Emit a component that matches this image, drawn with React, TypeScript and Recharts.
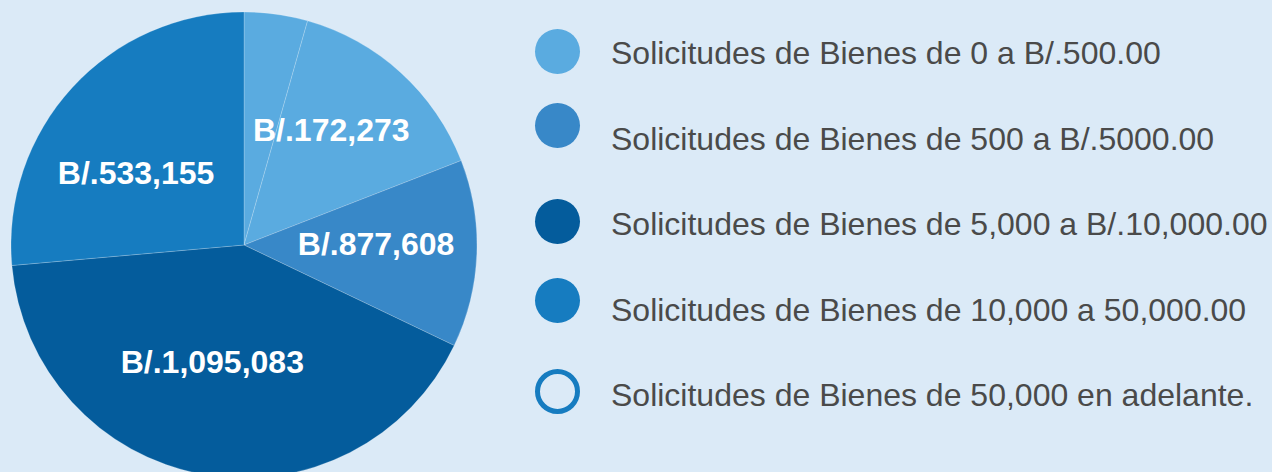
import { PieChart, Pie, Cell, Legend } from 'recharts';

// legend categories (in legend order)
const categories = [
  'Solicitudes de Bienes de 0 a B/.500.00',
  'Solicitudes de Bienes de 500 a B/.5000.00',
  'Solicitudes de Bienes de 5,000 a B/.10,000.00',
  'Solicitudes de Bienes de 10,000 a 50,000.00',
  'Solicitudes de Bienes de 50,000 en adelante.',
];
const legendColors = ['#5aabe0', '#3888c8', '#045c9c', '#167cc0', '#167cc0'];
const legendHollow = [false, false, false, false, true];

const sliceCategory = [4, 0, 1, 2, 3];
const sliceShares = [4.4, 14.7, 13.0, 41.5, 26.4];
const sliceLabels = ['', 'B/.172,273', 'B/.877,608', 'B/.1,095,083', 'B/.533,155'];
const sliceColors = ['#5aabe0', '#5aabe0', '#3888c8', '#045c9c', '#167cc0'];

const data = sliceShares.map((v, i) => ({
  name: categories[sliceCategory[i]],
  value: v,
  label: sliceLabels[i],
}));

const FONT = '"Liberation Sans", Arial, Helvetica, sans-serif';
const RADIAN = Math.PI / 180;

// label placement tweaks (fraction of radius, degrees off the mid angle)
const labelRadius = [0.57, 0.618, 0.567, 0.52, 0.558];
const labelAngleShift = [0, 5, 2.4, -4.9, 8.6];

const renderLabel = (props: any) => {
  const { cx, cy, midAngle, outerRadius, index } = props;
  const text = sliceLabels[index];
  if (!text) return null;
  const r = outerRadius * labelRadius[index];
  const a = midAngle + labelAngleShift[index];
  const x = cx + r * Math.cos(-a * RADIAN);
  const y = cy + r * Math.sin(-a * RADIAN);
  return (
    <text x={x} y={y} fill="#ffffff" textAnchor="middle" dominantBaseline="central"
      style={{ fontFamily: FONT, fontSize: 32, fontWeight: 700 }}>
      {text}
    </text>
  );
};

// small vertical nudges of the legend markers vs their text row
const iconShift = [-2, -13, -3, -9, -4];

function hollow(i: number) {
  return legendHollow[i];
}

const renderLegend = () => (
  <div style={{ position: 'relative', width: 740, height: 472 }}>
    {categories.map((c, i) => (
      <div key={c} style={{ position: 'absolute', left: 0, top: 53 + i * 85.5 - 20, height: 40, width: 740 }}>
        <div style={{
          position: 'absolute', left: 5, top: 20 + iconShift[i] - 22.5,
          width: hollow(i) ? 35 : 45, height: hollow(i) ? 35 : 45, borderRadius: '50%',
          background: hollow(i) ? 'transparent' : legendColors[i],
          border: hollow(i) ? `5px solid ${legendColors[i]}` : 'none',
        }} />
        <span style={{
          position: 'absolute', left: 81, top: 0, lineHeight: '40px',
          fontFamily: FONT, fontSize: 32, color: '#4a4a4a', whiteSpace: 'nowrap',
        }}>{c}</span>
      </div>
    ))}
  </div>
);

export default function App() {
  return (
    <div style={{ position: 'absolute', left: 0, top: 0, width: 1272, height: 472, background: '#dbeaf7', overflow: 'hidden' }}>
      <PieChart width={1272} height={472} margin={{ top: 0, right: 0, bottom: 0, left: 0 }}>
        <Pie
          data={data}
          dataKey="value"
          nameKey="name"
          cx={244}
          cy={245}
          outerRadius={233}
          startAngle={90}
          endAngle={-270}
          stroke="rgba(255,255,255,0.2)"
          strokeWidth={1}
          label={renderLabel}
          labelLine={false}
          isAnimationActive={false}
        >
          {data.map((d, i) => (
            <Cell key={i} fill={sliceColors[i]} />
          ))}
        </Pie>
        <Legend content={renderLegend} wrapperStyle={{ left: 530, top: 0, width: 740, height: 472 }} />
      </PieChart>
    </div>
  );
}
